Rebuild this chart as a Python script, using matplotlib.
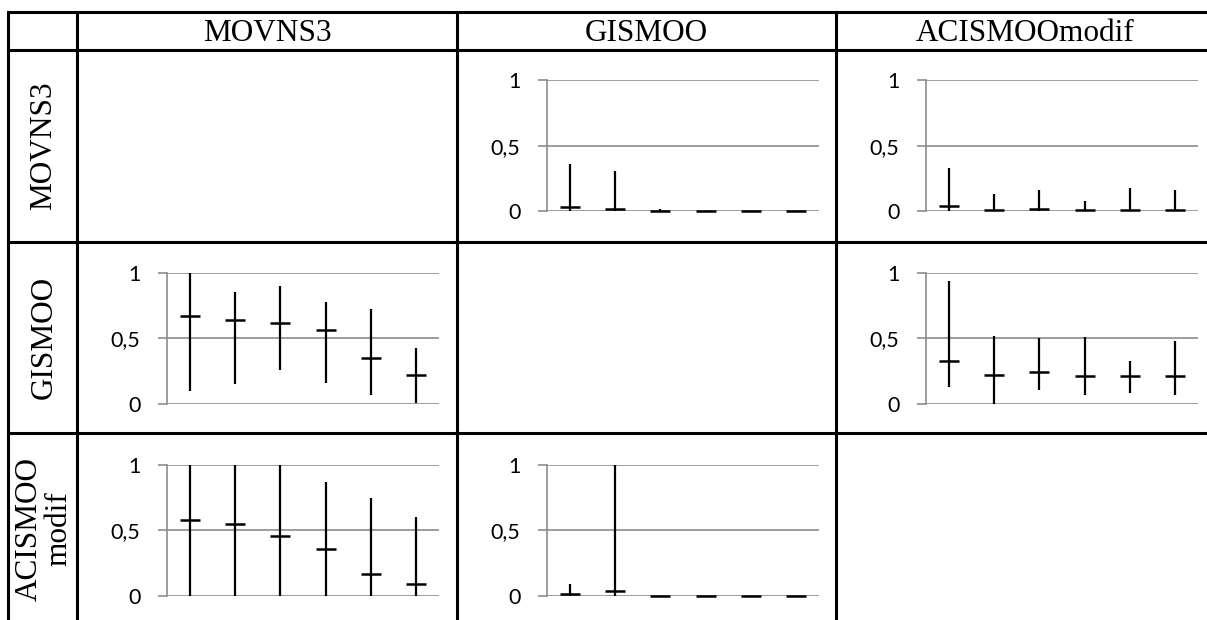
import numpy as np
import matplotlib.pyplot as plt
from matplotlib.lines import Line2D

# algorithm names (table header / row labels)
algos = ['MOVNS3', 'GISMOO', 'ACISMOOmodif']
row_labels = ['MOVNS3', 'GISMOO', 'ACISMOO\nmodif']
ticks = [0, 0.5, 1]
tick_labels = ['0', '0,5', '1']

# row MOVNS3, column GISMOO
mov_gis_hi = [0.36, 0.31, 0.02, 0.0, 0.0, 0.0]
mov_gis_med = [0.03, 0.02, 0.003, 0.0, 0.0, 0.0]
mov_gis_lo = [0.0, 0.0, 0.0, 0.0, 0.0, 0.0]

# row MOVNS3, column ACISMOOmodif
mov_aci_hi = [0.33, 0.13, 0.16, 0.08, 0.18, 0.16]
mov_aci_med = [0.04, 0.013, 0.02, 0.008, 0.013, 0.008]
mov_aci_lo = [0.0, 0.0, 0.0, 0.0, 0.0, 0.0]

# row GISMOO, column MOVNS3
gis_mov_hi = [1.0, 0.85, 0.90, 0.78, 0.72, 0.43]
gis_mov_med = [0.67, 0.64, 0.62, 0.56, 0.35, 0.22]
gis_mov_lo = [0.10, 0.15, 0.26, 0.16, 0.07, 0.01]

# row GISMOO, column ACISMOOmodif
gis_aci_hi = [0.94, 0.52, 0.50, 0.51, 0.33, 0.48]
gis_aci_med = [0.33, 0.22, 0.24, 0.21, 0.21, 0.21]
gis_aci_lo = [0.13, 0.0, 0.11, 0.07, 0.08, 0.07]

# row ACISMOOmodif, column MOVNS3
aci_mov_hi = [1.0, 1.0, 1.0, 0.87, 0.75, 0.60]
aci_mov_med = [0.58, 0.55, 0.46, 0.355, 0.165, 0.09]
aci_mov_lo = [0.0, 0.0, 0.0, 0.0, 0.0, 0.0]

# row ACISMOOmodif, column GISMOO
aci_gis_hi = [0.09, 1.0, 0.0, 0.0, 0.0, 0.0]
aci_gis_med = [0.013, 0.04, 0.0, 0.0, 0.0, 0.0]
aci_gis_lo = [0.0, 0.0, 0.0, 0.0, 0.0, 0.0]

cells = {
    (0, 1): (mov_gis_lo, mov_gis_med, mov_gis_hi),
    (0, 2): (mov_aci_lo, mov_aci_med, mov_aci_hi),
    (1, 0): (gis_mov_lo, gis_mov_med, gis_mov_hi),
    (1, 2): (gis_aci_lo, gis_aci_med, gis_aci_hi),
    (2, 0): (aci_mov_lo, aci_mov_med, aci_mov_hi),
    (2, 1): (aci_gis_lo, aci_gis_med, aci_gis_hi),
}

W, H = 1207, 620
fig = plt.figure(figsize=(W / 100, H / 100), dpi=100)

grey = '#8c8c8c'
serif = 'Liberation Serif'

# table layout in pixels
col_x = [8, 77, 457, 836, 1215]
row_y = [12, 50, 242, 433, 625]
plot_top = [80, 272.7, 464.7]


def fx(px):
    return px / W


def fy(py):
    return 1 - py / H


# table lines
for y in row_y[:-1]:
    fig.add_artist(Line2D([fx(col_x[0]), fx(col_x[-1])], [fy(y), fy(y)],
                          color='black', lw=2.2))
for x in col_x[:-1]:
    fig.add_artist(Line2D([fx(x), fx(x)], [fy(row_y[0]), fy(row_y[-1])],
                          color='black', lw=2.2))

# header
for i, name in enumerate(algos):
    cx = (col_x[i + 1] + col_x[i + 2]) / 2
    fig.text(fx(cx), fy(41), name, ha='center', va='baseline',
             fontsize=22.5, family=serif)

# row labels
for i, name in enumerate(row_labels):
    cy = (row_y[i + 1] + row_y[i + 2]) / 2
    fig.text(fx(44), fy(cy), name, ha='center', va='center', rotation=90,
             fontsize=22.5, family=serif, linespacing=1.05,
             multialignment='center')

# mini charts
for (r, c), (lo, med, hi) in cells.items():
    lo = np.array(lo)
    med = np.array(med)
    hi = np.array(hi)
    left = col_x[c + 1] + 90
    ax = fig.add_axes([fx(left), fy(plot_top[r] + 131.3), 272 / W, 131.3 / H])
    x = np.arange(len(med))
    ax.errorbar(x, med, yerr=[med - lo, hi - med], fmt='_', color='black',
                ecolor='black', elinewidth=1.6, capsize=0, markersize=14,
                markeredgewidth=1.8, clip_on=False, zorder=3)
    ax.set_xlim(-0.5, len(med) - 0.5)
    ax.set_ylim(0, 1)
    ax.set_yticks(ticks)
    ax.set_yticklabels(tick_labels, family='Lato', fontsize=15.5)
    ax.set_xticks([])
    ax.yaxis.grid(True, color=grey, lw=1.2)
    ax.set_axisbelow(True)
    for s in ['top', 'right', 'bottom']:
        ax.spines[s].set_visible(False)
    ax.spines['left'].set_color(grey)
    ax.spines['left'].set_linewidth(1.2)
    ax.tick_params(axis='y', length=6.5, width=1.2, color=grey, pad=12.5)
    ax.patch.set_alpha(0)

plt.savefig('out.png', dpi=100)
plt.close()
